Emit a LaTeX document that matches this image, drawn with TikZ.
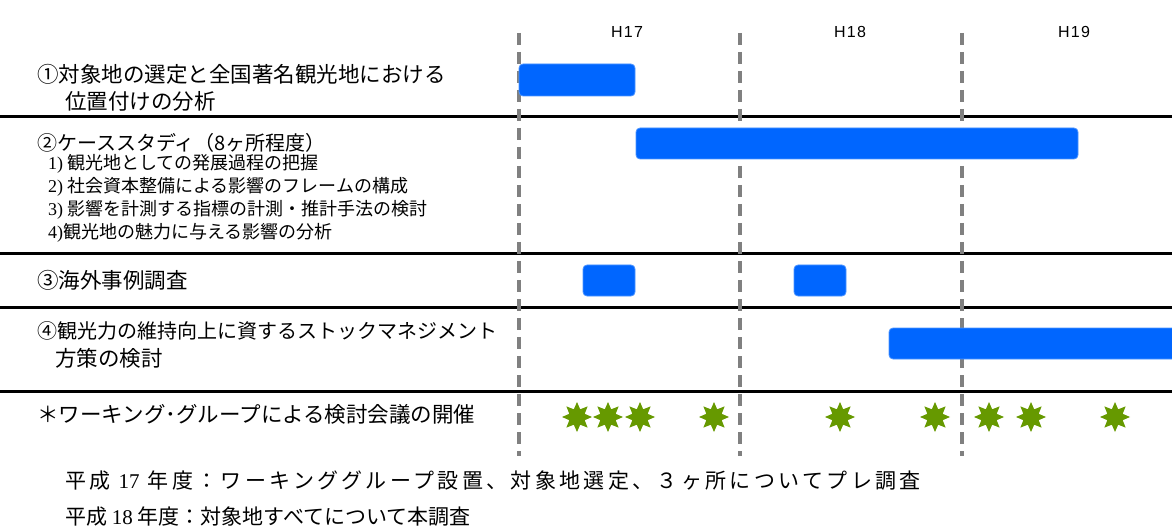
\documentclass[tikz,border=0pt]{standalone}
\usepackage{fontspec}
\setmainfont{Noto Sans CJK JP}
\newfontfamily\numfont{Liberation Serif}
\newfontfamily\yearfont[LetterSpace=8]{Liberation Sans}
\usetikzlibrary{shapes.geometric}
\definecolor{barblue}{HTML}{0066FF}
\definecolor{stargreen}{HTML}{669900}
\definecolor{dashgray}{HTML}{808080}
\tikzset{
  item/.style={anchor=west, inner sep=0pt, font=\fontsize{21.5}{25}\selectfont},
  subitem/.style={anchor=west, inner sep=0pt, font=\fontsize{18}{21}\selectfont},
  note/.style={anchor=west, inner sep=0pt, font=\fontsize{21}{25}\selectfont},
  year/.style={inner sep=0pt, font=\yearfont\fontsize{16}{19}\selectfont},
  rowline/.style={line width=3pt, black},
  yearline/.style={line width=4pt, dashgray, dash pattern=on 12pt off 7pt},
  bar/.style={fill=barblue, draw=barblue!70, line width=0.8pt, rounded corners=4pt},
  wgstar/.style={star, star points=8, star point ratio=1.8, minimum size=30pt,
    inner sep=0pt, fill=stargreen}
}
\begin{document}
\begin{tikzpicture}[x=1pt, y=-1pt]
\useasboundingbox (0,0) rectangle (1172,529);
\clip (0,0) rectangle (1172,529);
\draw [rowline] (0,117)--(1172,117);
\draw [rowline] (0,254)--(1172,254);
\draw [rowline] (0,307)--(1172,307);
\draw [rowline] (0,391)--(1172,391);
\draw [yearline] (519,33)--(519,456);
\draw [yearline] (740,33)--(740,456);
\draw [yearline] (962,33)--(962,456);
\draw (627,32) node[year] (h17) {H17};
\draw (850,32) node[year] (h18) {H18};
\draw (1074,32) node[year] (h19) {H19};
\draw (37,74) node[item] (item1) {①対象地の選定と全国著名観光地における};
\draw (65,101) node[item] (item1b) {位置付けの分析};
\draw (37,143) node[item, font=\fontsize{20}{24}\selectfont] (item2) {②ケーススタディ（8ヶ所程度）};
\draw (48,164) node[subitem] (sub1) {{\numfont 1)} 観光地としての発展過程の把握};
\draw (48,187) node[subitem] (sub2) {{\numfont 2)} 社会資本整備による影響のフレームの構成};
\draw (48,210) node[subitem] (sub3) {{\numfont 3)} 影響を計測する指標の計測・推計手法の検討};
\draw (48,233) node[subitem] (sub4) {{\numfont 4)}観光地の魅力に与える影響の分析};
\draw (37,280) node[item] (item3) {③海外事例調査};
\draw (37,331) node[item, font=\fontsize{20}{24}\selectfont] (item4) {④観光力の維持向上に資するストックマネジメント};
\draw (55,358) node[item] (item4b) {方策の検討};
\draw (37,414) node[item] (wg) {＊ワーキング･グループによる検討会議の開催};
\fill [bar] (519,64) rectangle (635,96);
\fill [bar] (636,128) rectangle (1078,159);
\fill [bar] (583,265) rectangle (635,296);
\fill [bar] (794,265) rectangle (846,296);
\fill [bar] (889,328) rectangle (1190,359);
\draw (577,417) node[wgstar] (st1) {};
\draw (608,417) node[wgstar] (st2) {};
\draw (640,417) node[wgstar] (st3) {};
\draw (714,417) node[wgstar] (st4) {};
\draw (840,417) node[wgstar] (st5) {};
\draw (935,417) node[wgstar] (st6) {};
\draw (989,417) node[wgstar] (st7) {};
\draw (1031,417) node[wgstar] (st8) {};
\draw (1115,417) node[wgstar] (st9) {};
\draw (65,481) node[note] (plan17) {\addfontfeature{LetterSpace=16}平成 {\numfont 17} 年度：ワーキンググループ設置、対象地選定、３ヶ所についてプレ調査};
\draw (65,517) node[note] (plan18) {平成 {\numfont 18} 年度：対象地すべてについて本調査};
\end{tikzpicture}
\end{document}
